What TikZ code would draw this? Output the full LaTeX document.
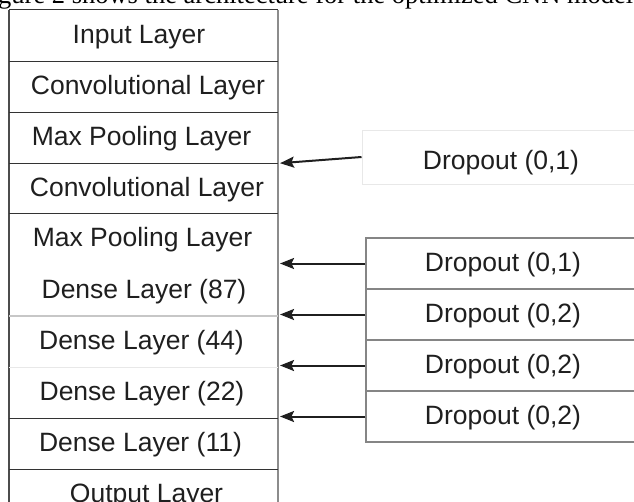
\documentclass[tikz,border=0pt]{standalone}
\usepackage{fontspec}
\setmainfont{Liberation Sans}
\newfontfamily\captionserif{Liberation Serif}
\usetikzlibrary{arrows.meta}

\begin{document}
\begin{tikzpicture}[x=1pt,y=-1pt,
  txt/.style={font=\fontsize{26.5}{30}\selectfont, text=black!88},
  layer/.style={txt, minimum height=51pt, inner sep=0pt, text height=20pt, text depth=4pt},
  dropbox/.style={txt, draw=black!48, line width=1.3pt, minimum width=274pt,
    minimum height=51pt, inner sep=0pt, text height=20pt, text depth=5pt},
  dropfaint/.style={txt, draw=black!9, line width=1pt, minimum width=278pt,
    minimum height=54pt, inner sep=0pt, text height=26pt, text depth=2pt},
  divdark/.style={draw=black!80, line width=1.2pt},
  divlight/.style={draw=black!22, line width=1.1pt},
  divfaint/.style={draw=black!9, line width=1.1pt},
  arr/.style={draw=black!88, line width=2pt,
    -{Stealth[length=14pt, width=11pt, inset=2.5pt]}}
]
\useasboundingbox (0,0) rectangle (634,501);
\clip (0,0) rectangle (634,501);

% caption line of the page, cut by the top edge
\node[anchor=base west, inner sep=0pt, font=\captionserif\fontsize{26.5}{30}\selectfont] (cap)
  at (-2,3) {gure 2 shows the architecture for the optimized CNN model};

% column edges
\coordinate (colW) at (9,0);
\coordinate (colR) at (278,0);
\coordinate (colE) at (280,0);

% layer stack
\node[layer] (l1)  at (139,35.5)    {Input Layer};
\node[layer] (l2)  at (148,86.5)    {Convolutional Layer};
\node[layer] (l3)  at (141.5,137.5) {Max Pooling Layer};
\node[layer] (l4)  at (147,188)     {Convolutional Layer};
\node[layer] (l5)  at (142.5,238.75){Max Pooling Layer};
\node[layer] (l6)  at (144,290.25)  {Dense Layer (87)};
\node[layer] (l7)  at (141.5,341.5) {Dense Layer (44)};
\node[layer] (l8)  at (142,392.5)   {Dense Layer (22)};
\node[layer] (l9)  at (140.5,443.5) {Dense Layer (11)};
\node[layer] (l10) at (146.5,494.5) {Output Layer};

% outline of the stack
\draw[draw=black!70, line width=1.2pt] (l1.north -| colW) -- (l10.south -| colW);
\draw[draw=black!45, line width=1.5pt] (l1.north -| colR) -- (l10.south -| colR);
\draw[divdark] (l1.north -| colW) -- (l1.north -| colR);

% row dividers
\foreach \r in {l1,l2,l3,l4,l8,l9}
  \draw[divdark] (\r.south -| colW) -- (\r.south -| colR);
\draw[divlight] (l6.south -| colW) -- (l6.south -| colR);
\draw[divfaint] (l7.south -| colW) -- (l7.south -| colR);

% dropout blocks
\node[dropfaint] (d1) at (501,157)   {Dropout (0,1)};
\node[dropbox]   (d2) at (503,263.5) {Dropout (0,1)};
\node[dropbox]   (d3) at (503,314.5) {Dropout (0,2)};
\node[dropbox]   (d4) at (503,365.5) {Dropout (0,2)};
\node[dropbox]   (d5) at (503,416.5) {Dropout (0,2)};

% connectors into the stack
\draw[arr] (d1.west) -- (l3.south -| colE);
\foreach \d in {d2,d3,d4,d5}
  \draw[arr] (\d.west) -- (\d.west -| colE);
\end{tikzpicture}
\end{document}
